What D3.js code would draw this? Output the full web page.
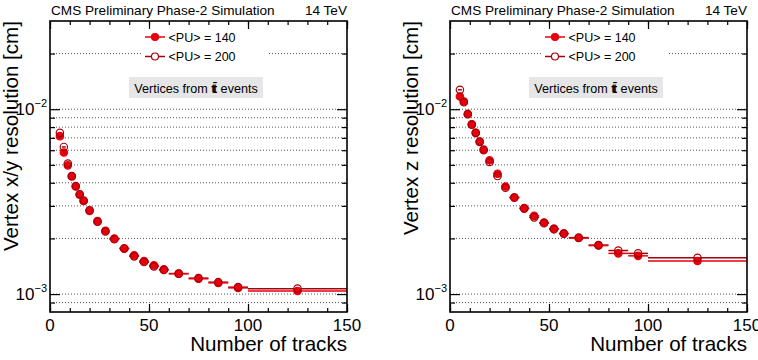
<!DOCTYPE html>
<html>
<head>
<meta charset="utf-8">
<script src="https://cdn.jsdelivr.net/npm/d3@7"></script>
<style>
body { margin: 0; background: #fff; }
text { font-family: "Liberation Sans", Arial, sans-serif; fill: #000; }
.grid line { stroke: #555; stroke-dasharray: 1,2; }
.axis path { display: none; }
.axis line { stroke: #000; stroke-width: 1.2; }
</style>
</head>
<body>
<svg id="chart" width="758" height="360"></svg>
<script>
// track-multiplicity bins (edges) and resolutions in cm
const binEdges = [4, 6, 8, 10, 12, 14, 16, 18, 22, 26, 30, 35, 40, 45, 50, 55, 60, 70, 80, 90, 100, 150];
const xyRes140 = [0.00715, 0.00583, 0.00497, 0.00433, 0.00382, 0.00345, 0.00319, 0.00282, 0.00248, 0.00220, 0.00200,
                  0.00176, 0.00162, 0.00151, 0.00143, 0.00136, 0.00129, 0.00121, 0.00115, 0.00108, 0.00104];
const xyRes200 = [0.00745, 0.00625, 0.00508, 0.00435, 0.00384, 0.00347, 0.00321, 0.00284, 0.00246, 0.00218, 0.00198,
                  0.00177, 0.00160, 0.00149, 0.00141, 0.00135, 0.00129, 0.00122, 0.00116, 0.00109, 0.00107];
const zRes140 = [0.01171, 0.01100, 0.00943, 0.00828, 0.00745, 0.00666, 0.00600, 0.00529, 0.00448, 0.00382, 0.00334,
                 0.00292, 0.00265, 0.00244, 0.00226, 0.00213, 0.00201, 0.00183, 0.00166, 0.00161, 0.00151];
const zRes200 = [0.01274, 0.01090, 0.00940, 0.00825, 0.00745, 0.00668, 0.00605, 0.00518, 0.00435, 0.00376, 0.00332,
                 0.00290, 0.00260, 0.00242, 0.00224, 0.00212, 0.00202, 0.00184, 0.00172, 0.00166, 0.00157];
const xMajor = [0, 50, 100, 150];
const xMinor = d3.range(0, 151, 10);
const yMajor = [1e-3, 1e-2];
const yMinor = [9e-4, 2e-3, 3e-3, 4e-3, 5e-3, 6e-3, 7e-3, 8e-3, 9e-3, 2e-2];
const legendLabels = ["<PU> = 140", "<PU> = 200"];

const pw = 297, ph = 291; // frame size
const col140 = "#e5000c", col200 = "#a3000a";

const svg = d3.select("#chart");
const x = d3.scaleLinear().domain([0, 150]).range([0, pw]);
const y = d3.scaleLog().domain([8e-4, 3e-2]).range([ph, 0]);

draw_panel(50, "Vertex x/y resolution [cm]", xyRes140, xyRes200);
draw_panel(450, "Vertex z resolution [cm]", zRes140, zRes200);

function draw_panel(ox, ytitle, s140, s200) {
    const g = svg.append("g").attr("transform", "translate(" + ox + ",21)");

    // dotted grid at every y tick
    g.append("g").classed("grid", true).selectAll("line").data(yMajor.concat(yMinor)).join("line")
        .attr("x1", 0).attr("x2", pw).attr("y1", d => y(d)).attr("y2", d => y(d));

    // header
    g.append("text").attr("x", 1).attr("y", -6.5).attr("font-size", 13.6).text("CMS Preliminary Phase-2 Simulation");
    g.append("text").attr("x", pw).attr("y", -6.5).attr("font-size", 13.6).attr("text-anchor", "end").text("14 TeV");

    // legend (white box hides grid)
    g.append("rect").attr("x", 92).attr("y", 4).attr("width", 125).attr("height", 42).attr("fill", "#fff");
    const leg = g.selectAll(".leg").data(legendLabels).join("g").classed("leg", true)
        .attr("transform", (d, i) => "translate(95," + (16 + i * 19.5) + ")");
    leg.append("line").attr("x1", 0).attr("x2", 20).attr("y1", 0).attr("y2", 0)
        .attr("stroke", (d, i) => i ? col200 : col140).attr("stroke-width", 1.5);
    leg.append("circle").attr("cx", 10).attr("cy", 0).attr("r", 3.5)
        .attr("fill", (d, i) => i ? "#fff" : col140)
        .attr("stroke", (d, i) => i ? col200 : col140).attr("stroke-width", 1.2);
    leg.append("text").attr("x", 23.5).attr("y", 4.5).attr("font-size", 12.5).text(d => d);

    // label box
    g.append("rect").attr("x", 79).attr("y", 56).attr("width", 134).attr("height", 21).attr("fill", "#e6e6e6");
    const bt = g.append("text").attr("x", 146).attr("y", 71.5).attr("font-size", 12.6).attr("text-anchor", "middle");
    bt.append("tspan").text("Vertices from ");
    bt.append("tspan").attr("font-weight", "bold").attr("letter-spacing", -2.5).text("tt\u0304");
    bt.append("tspan").attr("dx", 2.5).text(" events");

    // series: bin-width error bars and markers
    const series = [
        { vals: s200, col: col200, open: true },
        { vals: s140, col: col140, open: false }
    ];
    series.forEach(s => {
        const pts = s.vals.map((v, i) => ({ lo: binEdges[i], hi: binEdges[i + 1], v: v }));
        g.append("g").selectAll("line").data(pts).join("line")
            .attr("x1", d => x(d.lo)).attr("x2", d => x(d.hi))
            .attr("y1", d => y(d.v)).attr("y2", d => y(d.v))
            .attr("stroke", s.col).attr("stroke-width", 1.5);
    });
    [series[1], series[0]].forEach(s => {
        const pts = s.vals.map((v, i) => ({ c: (binEdges[i] + binEdges[i + 1]) / 2, v: v }));
        g.append("g").selectAll("circle").data(pts).join("circle")
            .attr("cx", d => x(d.c)).attr("cy", d => y(d.v)).attr("r", 3.7)
            .attr("fill", s.open ? "none" : s.col)
            .attr("stroke", s.col).attr("stroke-width", 1.2);
    });

    // ticks, all pointing inward
    g.append("g").classed("axis", true).attr("transform", "translate(0," + ph + ")")
        .call(d3.axisTop(x).tickValues(xMinor).tickSize(4).tickFormat(""));
    g.append("g").classed("axis", true).attr("transform", "translate(0," + ph + ")")
        .call(d3.axisTop(x).tickValues(xMajor).tickSize(8).tickFormat(""));
    g.append("g").classed("axis", true)
        .call(d3.axisBottom(x).tickValues(xMinor).tickSize(4).tickFormat(""));
    g.append("g").classed("axis", true)
        .call(d3.axisBottom(x).tickValues(xMajor).tickSize(8).tickFormat(""));
    g.append("g").classed("axis", true)
        .call(d3.axisRight(y).tickValues(yMinor).tickSize(5).tickFormat(""));
    g.append("g").classed("axis", true)
        .call(d3.axisRight(y).tickValues(yMajor).tickSize(10).tickFormat(""));
    g.append("g").classed("axis", true).attr("transform", "translate(" + pw + ",0)")
        .call(d3.axisLeft(y).tickValues(yMinor).tickSize(5).tickFormat(""));
    g.append("g").classed("axis", true).attr("transform", "translate(" + pw + ",0)")
        .call(d3.axisLeft(y).tickValues(yMajor).tickSize(10).tickFormat(""));

    // frame
    g.append("rect").attr("width", pw).attr("height", ph)
        .attr("fill", "none").attr("stroke", "#000").attr("stroke-width", 1.6);

    // tick labels
    g.selectAll(".xlab").data(xMajor).join("text").classed("xlab", true)
        .attr("x", d => x(d)).attr("y", ph + 18.5).attr("font-size", 17).attr("text-anchor", "middle")
        .text(d => d);
    const yl = g.selectAll(".ylab").data(yMajor).join("text").classed("ylab", true)
        .attr("x", -3).attr("y", d => y(d) + 6).attr("font-size", 17).attr("text-anchor", "end");
    yl.append("tspan").text("10");
    yl.append("tspan").attr("font-size", 11).attr("dy", -8).text(d => "\u2212" + Math.round(-Math.log10(d)));

    // axis titles
    g.append("text").attr("x", pw).attr("y", ph + 39).attr("font-size", 20.6).attr("text-anchor", "end")
        .text("Number of tracks");
    g.append("text").attr("transform", "translate(-32,0) rotate(-90)").attr("font-size", 20.6)
        .attr("text-anchor", "end").text(ytitle);
}
</script>
</body>
</html>
